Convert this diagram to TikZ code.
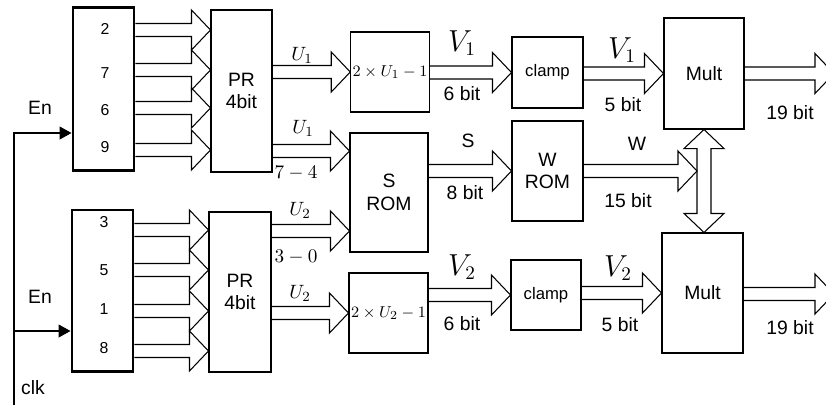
\documentclass[tikz,border=0pt]{standalone}
\usepackage{fontspec}
\setmainfont{Liberation Sans}
\usepackage{tikz}
\usetikzlibrary{calc,positioning,arrows.meta}

% hollow bus arrow: start point, tip (same height)
\newcommand{\busarrow}[2]{%
  \draw[bus] ($(#1)+(0,0.13)$) -- ($(#2)+(-0.38,0.13)$) -- ($(#2)+(-0.38,0.40)$)
    -- (#2) -- ($(#2)+(-0.38,-0.40)$) -- ($(#2)+(-0.38,-0.13)$) -- ($(#1)+(0,-0.13)$);
}

\begin{document}
\begin{tikzpicture}[
  every node/.style={font=\fontsize{11}{13}\selectfont},
  blk/.style={draw, line width=0.6pt, inner sep=2pt, align=center},
  reg/.style={draw, line width=1.7pt, minimum width=1.22cm, minimum height=3.25cm},
  num/.style={font=\small},
  small/.style={font=\fontsize{9.5}{11}\selectfont},
  var/.style={font=\fontsize{16}{18}\selectfont},
  bus/.style={line width=0.6pt},
  ctrl/.style={-{Triangle[length=0.24cm,width=0.26cm]}, line width=0.6pt},
]
\useasboundingbox (0,0) rectangle (16.52,8.10);

% Registers
\node[reg] (reg1) at (2.07,6.32) {};
\node[reg, minimum height=3.22cm] (reg2) at (2.05,2.29) {};
\foreach \t/\y in {2/7.52, 7/6.64, 6/5.90, 9/5.16}
  \node[num] (t\t) at (2.10,\y) {\t};
\foreach \t/\y in {3/3.66, 5/2.70, 1/1.92, 8/1.14}
  \node[num] (b\t) at (2.08,\y) {\t};

% Blocks
\node[blk, minimum width=1.22cm, minimum height=3.24cm] (pr1) at (4.83,6.28) {PR\\4bit};
\node[blk, minimum width=1.24cm, minimum height=3.2cm] (pr2) at (4.80,2.26) {PR\\4bit};
\node[blk, small, inner sep=1pt, minimum width=1.56cm, minimum height=1.6cm] (f1) at (7.80,6.66) {$2\times U_1-1$};
\node[blk, minimum width=1.56cm, minimum height=2.38cm] (srom) at (7.78,4.25) {S\\ROM};
\node[blk, small, inner sep=1pt, minimum width=1.58cm, minimum height=1.6cm] (f2) at (7.77,1.84) {$2\times U_2-1$};
\node[blk, small, minimum width=1.42cm, minimum height=1.42cm] (clamp1) at (10.95,6.65) {clamp};
\node[blk, minimum width=1.42cm, minimum height=2.0cm] (wrom) at (10.95,4.68) {W\\ROM};
\node[blk, small, minimum width=1.40cm, minimum height=1.40cm] (clamp2) at (10.92,2.20) {clamp};
\node[blk, minimum width=1.6cm, minimum height=2.22cm] (mult1) at (14.08,6.63) {Mult};
\node[blk, minimum width=1.62cm, minimum height=2.4cm] (mult2) at (14.05,2.24) {Mult};

% Register outputs
\foreach \k/\y in {1/7.50, 2/6.70, 3/5.94, 4/5.10}
  \coordinate (ta\k) at (0,\y);
\foreach \k/\y in {1/3.50, 2/2.70, 3/1.88, 4/1.08}
  \coordinate (tb\k) at (0,\y);
\foreach \k in {1,...,4} {
  \busarrow{reg1.east |- ta\k}{pr1.west |- ta\k}
  \busarrow{reg2.east |- tb\k}{pr2.west |- tb\k}
}

% Data path
\coordinate (s1) at (0,5.08);
\coordinate (s2) at (0,3.48);
\busarrow{pr1.east |- f1.west}{f1.west}
\busarrow{pr1.east |- s1}{srom.west |- s1}
\busarrow{pr2.east |- s2}{srom.west |- s2}
\busarrow{pr2.east |- f2.west}{f2.west}
\busarrow{f1.east |- clamp1.west}{clamp1.west}
\busarrow{srom.east |- wrom.west}{wrom.west}
\busarrow{f2.east |- clamp2.west}{clamp2.west}
\busarrow{clamp1.east |- mult1.west}{mult1.west}
\busarrow{clamp2.east |- mult2.west}{mult2.west}
\coordinate (o1) at (16.68,6.63);
\coordinate (o2) at (16.68,2.22);
\busarrow{mult1.east |- o1}{o1}
\busarrow{mult2.east |- o2}{o2}

% Shared W bus between the multipliers
\coordinate (dtop) at (mult1.south);
\coordinate (dbot) at (mult1.south |- mult2.north);
\draw[bus] (dtop) -- ($(dtop)+(0.40,-0.38)$) -- ($(dtop)+(0.14,-0.38)$)
  -- ($(dbot)+(0.14,0.38)$) -- ($(dbot)+(0.40,0.38)$) -- (dbot)
  -- ($(dbot)+(-0.40,0.38)$) -- ($(dbot)+(-0.14,0.38)$)
  -- ($(dtop)+(-0.14,-0.38)$) -- ($(dtop)+(-0.40,-0.38)$) -- cycle;
\coordinate (wtip) at ([xshift=-0.14cm]mult1.south |- wrom.east);
\busarrow{wrom.east}{wtip}

% Clock / enable
\coordinate (clkbot) at (0.28,0);
\coordinate (en1) at ([yshift=-0.88cm]reg1.west);
\coordinate (en2) at ([yshift=-0.81cm]reg2.west);
\draw[ctrl] (clkbot) |- (en1);
\draw[ctrl] (clkbot |- en2) -- (en2);
\node (enl1) at (0.80,5.94) {En};
\node (enl2) at (0.80,2.16) {En};
\node (clk) at (0.66,0.34) {clk};

% Bus labels
\node (u1a) at (6.04,7.00) {$U_1$};
\node (u1b) at (6.06,5.54) {$U_1$};
\node (r74) at (5.92,4.64) {$7-4$};
\node (u2a) at (6.00,3.90) {$U_2$};
\node (r30) at (5.92,2.96) {$3-0$};
\node (u2b) at (6.00,2.24) {$U_2$};
\node[var] (v1a) at (9.24,7.24) {$V_1$};
\node (w1a) at (9.24,6.22) {6 bit};
\node (sl) at (9.36,5.28) {S};
\node (w8) at (9.30,4.24) {8 bit};
\node[var] (v2a) at (9.24,2.76) {$V_2$};
\node (w2a) at (9.24,1.62) {6 bit};
\node[var] (v1b) at (12.44,7.10) {$V_1$};
\node (w1b) at (12.46,6.00) {5 bit};
\node (wl) at (12.74,5.22) {W};
\node (w15) at (12.56,4.08) {15 bit};
\node[var] (v2b) at (12.36,2.74) {$V_2$};
\node (w2b) at (12.40,1.60) {5 bit};
\node (o19a) at (15.80,5.84) {19 bit};
\node (o19b) at (15.80,1.54) {19 bit};

\end{tikzpicture}
\end{document}
